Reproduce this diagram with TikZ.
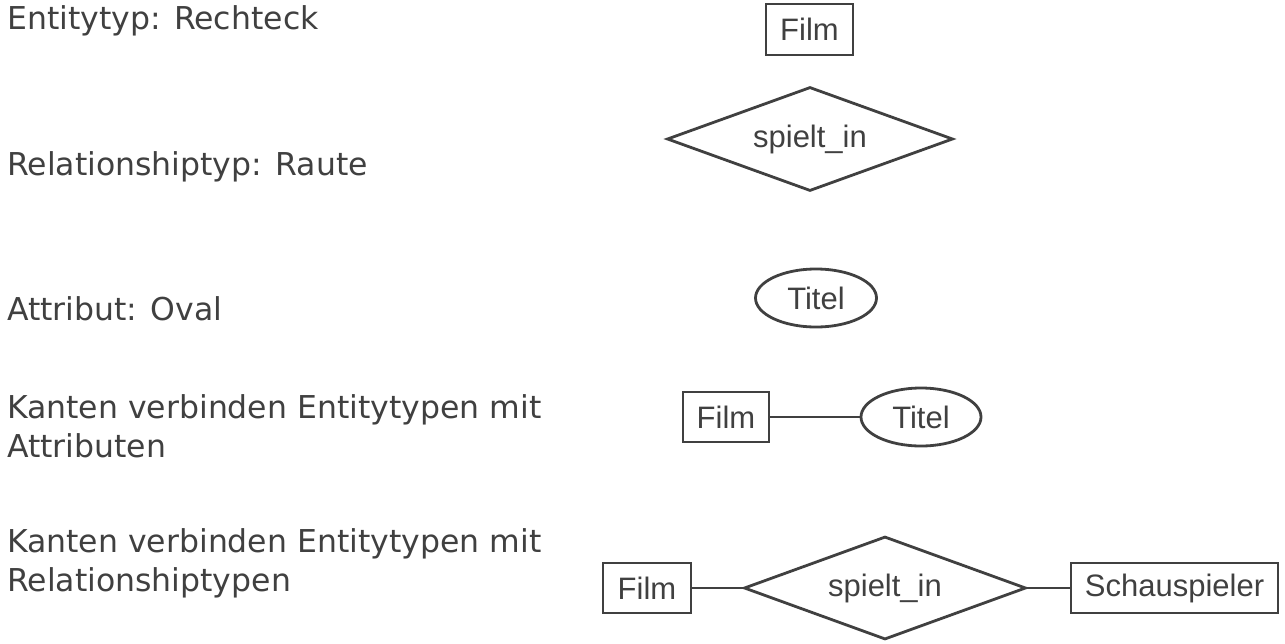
\documentclass[tikz,border=0pt]{standalone}
\usepackage{fontspec}
\setmainfont{DejaVu Sans}
\newfontfamily\diafont{Liberation Sans}
\usetikzlibrary{shapes.geometric}
\definecolor{ink}{HTML}{404040}
\tikzset{
  desc/.style={anchor=base west, align=left, text=ink, inner sep=0pt,
    font={\fontsize{31.5}{38.5}\selectfont}},
  erbase/.style={draw=ink, line width=2.8pt, text=ink, inner sep=0pt,
    font={\diafont\fontsize{31}{36}\selectfont}},
  entity/.style={erbase, rectangle, minimum height=50pt},
  rel/.style={erbase, diamond, aspect=2.75},
  attr/.style={erbase, ellipse, minimum width=120pt, minimum height=58pt},
  edge/.style={draw=ink, line width=2.8pt}
}
\begin{document}
\begin{tikzpicture}[x=1pt,y=-1pt]
\useasboundingbox (0,0) rectangle (1285,643);
% left descriptions
\node[desc] (d1) at (7,29) {Entitytyp: Rechteck};
\node[desc] (d2) at (7,175) {Relationshiptyp: Raute};
\node[desc] (d3) at (7,320) {Attribut: Oval};
\node[desc] (d4) at (7,457) {Kanten verbinden Entitytypen mit\\Attributen};
\node[desc] (d5) at (7,591) {Kanten verbinden Entitytypen mit\\Relationshiptypen};
% row 1
\node[entity, minimum width=87pt, minimum height=51pt] (f1) at (809.5,29.5) {Film};
% row 2
\node[rel, minimum width=286pt, minimum height=104pt] (r1) at (810,139) {spielt\_in};
% row 3
\node[attr, minimum width=121pt] (t1) at (816,298) {Titel};
% row 4
\node[entity, minimum width=86pt] (f2) at (726,417) {Film};
\node[attr] (t2) at (921,417) {Titel};
\draw[edge] (f2) -- (t2);
% row 5
\node[entity, minimum width=88pt] (f3) at (647,588) {Film};
\node[rel, minimum width=282pt, minimum height=103pt] (r2) at (885,588) {spielt\_in};
\node[entity, minimum width=207pt] (s3) at (1174.5,588) {Schauspieler};
\draw[edge] (f3) -- (r2);
\draw[edge] (r2) -- (s3);
\end{tikzpicture}
\end{document}
